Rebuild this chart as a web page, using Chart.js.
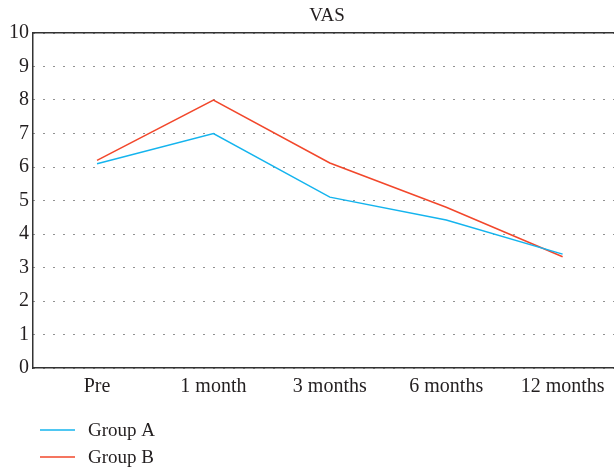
<!DOCTYPE html>
<html>
<head>
<meta charset="utf-8">
<script src="https://cdn.jsdelivr.net/npm/chart.js@4"></script>
<style>
  html, body { margin: 0; padding: 0; background: #fff; overflow: hidden; }
  #wrap { width: 654px; height: 468px; }
</style>
</head>
<body>
<div id="wrap"><canvas id="vas"></canvas></div>
<script>
const categories = ['Pre', '1 month', '3 months', '6 months', '12 months']
const groupA = [6.1, 7.0, 5.1, 4.42, 3.4]
const groupB = [6.2, 8.0, 6.12, 4.8, 3.32]
const yTicks = [0, 1, 2, 3, 4, 5, 6, 7, 8, 9, 10]

const FONT = "'Liberation Serif', 'DejaVu Serif', serif"
const INK = '#231f20'

// legend stacked under the chart, one row per series
const stackedLegend = {
    id: 'stackedLegend',
    afterDraw(chart) {
        const ctx = chart.ctx
        const base = chart.chartArea.bottom
        ctx.save()
        ctx.font = '19px ' + FONT
        ctx.textBaseline = 'middle'
        chart.data.datasets.forEach((ds, i) => {
            const y = base + 62 + i * 27
            ctx.strokeStyle = ds.borderColor
            ctx.lineWidth = 1.5
            ctx.beginPath()
            ctx.moveTo(40, y)
            ctx.lineTo(75, y)
            ctx.stroke()
            ctx.fillStyle = INK
            ctx.fillText(ds.label, 88, y + 1)
        })
        ctx.restore()
    }
}

new Chart(document.getElementById('vas'), {
    type: 'line',
    data: {
        datasets: [{
            label: 'Group A',
            data: groupA.map((v, i) => ({ x: i, y: v })),
            borderColor: '#14b4ee',
            borderWidth: 1.5,
            pointRadius: 0,
            tension: 0
        }, {
            label: 'Group B',
            data: groupB.map((v, i) => ({ x: i, y: v })),
            borderColor: '#f2472b',
            borderWidth: 1.5,
            pointRadius: 0,
            tension: 0
        }]
    },
    options: {
        responsive: true,
        maintainAspectRatio: false,
        animation: false,
        layout: { padding: { left: 0, right: 0, top: 0, bottom: 70 } },
        plugins: {
            legend: { display: false },
            tooltip: { enabled: false },
            title: {
                display: true,
                text: 'VAS',
                color: INK,
                font: { family: FONT, size: 19, weight: 'normal', lineHeight: 1.2 },
                padding: { top: 5, bottom: 5.2 }
            }
        },
        scales: {
            x: {
                type: 'linear',
                min: -0.55,
                max: 4.785,
                afterFit: (s) => { s.height = 30 },
                grid: { display: false, drawTicks: false },
                border: { display: true, color: '#333', width: 1.5 },
                ticks: {
                    stepSize: 1,
                    includeBounds: false,
                    autoSkip: false,
                    maxRotation: 0,
                    padding: 7,
                    color: INK,
                    font: { family: FONT, size: 20 },
                    callback: (v) => categories[v] !== undefined && Number.isInteger(v) ? categories[v] : ''
                }
            },
            x2: {
                type: 'linear',
                position: 'top',
                min: -0.55,
                max: 4.785,
                afterFit: (s) => { s.height = 0 },
                grid: { display: false, drawTicks: false },
                border: { display: true, color: '#333', width: 1.5 },
                ticks: { display: false }
            },
            y: {
                min: 0,
                max: 10,
                afterFit: (s) => { s.width = 33 },
                afterBuildTicks: (s) => { s.ticks = yTicks.map(v => ({ value: v })) },
                grid: { color: '#222', lineWidth: 1, drawTicks: false },
                border: { display: true, color: '#333', width: 1.5, dash: [1, 9] },
                ticks: {
                    padding: 4,
                    color: INK,
                    font: { family: FONT, size: 20 }
                }
            }
        }
    },
    plugins: [stackedLegend]
});
</script>
</body>
</html>
